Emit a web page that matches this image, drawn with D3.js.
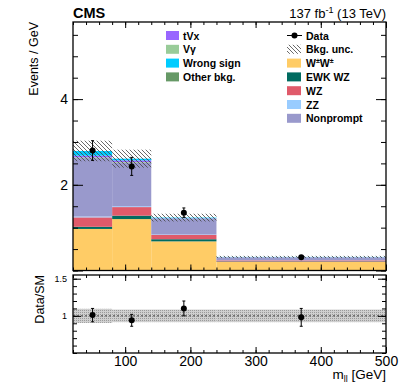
<!DOCTYPE html>
<html>
<head>
<meta charset="utf-8">
<script src="https://cdn.jsdelivr.net/npm/d3@7"></script>
<style>
  body { margin: 0; background: #fff; }
  svg { font-family: "Liberation Sans", Arial, Helvetica, sans-serif; }
</style>
</head>
<body>
<svg id="chart" width="407" height="387"></svg>
<script>
// bins in m_ll [GeV]
const binEdges = [20, 80, 140, 240, 500];
const binCenters = [50, 110, 190, 370];

// stacked backgrounds, events / GeV (bottom to top)
const wwSS      = [0.97, 1.20, 0.68, 0.20];
const ewkWZ     = [0.05, 0.08, 0.05, 0.012];
const wzBkg     = [0.22, 0.20, 0.10, 0.025];
const zzBkg     = [0.02, 0.02, 0.01, 0.005];
const nonprompt = [1.36, 1.01, 0.36, 0.06];
const otherBkg  = [0.01, 0.01, 0.005, 0.003];
const vGamma    = [0.01, 0.01, 0.005, 0.002];
const tVx       = [0.04, 0.04, 0.01, 0.005];
const wrongSign = [0.11, 0.04, 0.015, 0.005];
const bkgUnc    = [0.24, 0.21, 0.09, 0.025];

// data
const dataVals = [2.80, 2.43, 1.35, 0.31];
const dataErr  = [0.23, 0.21, 0.11, 0.03];

// ratio panel
const ratioVals = [1.01, 0.94, 1.10, 0.98];
const ratioErr  = [0.09, 0.08, 0.10, 0.12];
const ratioUnc  = [0.095, 0.085, 0.085, 0.085];

const xTicks = [100, 200, 300, 400, 500];

const layers = [
  { key: "ww", label: "W\u00B1W\u00B1", vals: wwSS, color: "#ffcc66" },
  { key: "ewk", label: "EWK WZ", vals: ewkWZ, color: "#006b60" },
  { key: "wz", label: "WZ", vals: wzBkg, color: "#e05a6a" },
  { key: "zz", label: "ZZ", vals: zzBkg, color: "#99ccff" },
  { key: "np", label: "Nonprompt", vals: nonprompt, color: "#9999cc" },
  { key: "oth", label: "Other bkg.", vals: otherBkg, color: "#669966" },
  { key: "vg", label: "V\u03B3", vals: vGamma, color: "#99cc99" },
  { key: "tvx", label: "tVx", vals: tVx, color: "#9966ff" },
  { key: "ws", label: "Wrong sign", vals: wrongSign, color: "#00ccff" }
];
const colorOf = {};
layers.forEach(l => colorOf[l.key] = l.color);

const svg = d3.select("#chart");

const L = 73, R = 386;
const mainTop = 22, mainBot = 270.5;
const ratTop = 275, ratBot = 353;

const x = d3.scaleLinear().domain([20, 500]).range([L, R]);
const y = d3.scaleLinear().domain([0, 5.8]).range([mainBot, mainTop]);
const yr = d3.scaleLinear().domain([0.5, 1.55]).range([ratBot, ratTop]);

// patterns
const defs = svg.append("defs");
const hatch = defs.append("pattern")
  .attr("id", "hatch")
  .attr("patternUnits", "userSpaceOnUse")
  .attr("width", 4).attr("height", 4);
hatch.append("path")
  .attr("d", "M0,0 L4,4 M-1,3 L1,5 M3,-1 L5,1")
  .attr("stroke", "#444").attr("stroke-width", 0.8);

const dots = defs.append("pattern")
  .attr("id", "dots")
  .attr("patternUnits", "userSpaceOnUse")
  .attr("width", 2).attr("height", 2);
dots.append("rect").attr("width", 2).attr("height", 2).attr("fill", "#cfcfcf");
dots.append("rect").attr("width", 1).attr("height", 1).attr("fill", "#9a9a9a");

// ---- main panel ----
const binData = binCenters.map((c, i) => {
  const row = { i };
  layers.forEach(l => row[l.key] = l.vals[i]);
  return row;
});
const stack = d3.stack().keys(layers.map(l => l.key))(binData);

svg.append("g").selectAll("g")
  .data(stack)
  .enter().append("g")
  .attr("fill", d => colorOf[d.key])
  .selectAll("rect")
  .data(d => d)
  .enter().append("rect")
  .attr("x", d => x(binEdges[d.data.i]))
  .attr("width", d => x(binEdges[d.data.i + 1]) - x(binEdges[d.data.i]))
  .attr("y", d => y(d[1]))
  .attr("height", d => y(d[0]) - y(d[1]));

const totals = binCenters.map((c, i) => d3.sum(layers, l => l.vals[i]));

svg.append("g").selectAll("rect")
  .data(totals)
  .enter().append("rect")
  .attr("x", (d, i) => x(binEdges[i]))
  .attr("width", (d, i) => x(binEdges[i + 1]) - x(binEdges[i]))
  .attr("y", (d, i) => y(d + bkgUnc[i]))
  .attr("height", (d, i) => y(d - bkgUnc[i]) - y(d + bkgUnc[i]))
  .attr("fill", "url(#hatch)");

// data points
const pts = svg.append("g");
binCenters.forEach((c, i) => {
  pts.append("line")
    .attr("x1", x(c)).attr("x2", x(c))
    .attr("y1", y(dataVals[i] - dataErr[i])).attr("y2", y(dataVals[i] + dataErr[i]))
    .attr("stroke", "#000").attr("stroke-width", 1);
  [dataVals[i] - dataErr[i], dataVals[i] + dataErr[i]].forEach(v => {
    pts.append("line")
      .attr("x1", x(c) - 1.5).attr("x2", x(c) + 1.5)
      .attr("y1", y(v)).attr("y2", y(v))
      .attr("stroke", "#000").attr("stroke-width", 1);
  });
  pts.append("circle").attr("cx", x(c)).attr("cy", y(dataVals[i])).attr("r", 3).attr("fill", "#000");
});

// main axes (ticks inside)
const minorX = d3.range(20, 501, 20);
const yMinor = d3.range(0, 5.81, 0.5);
function ticksOnly(g) { g.select(".domain").remove(); g.selectAll("text").remove(); }

svg.append("g").attr("transform", `translate(0,${mainBot})`)
  .call(d3.axisBottom(x).tickValues(minorX).tickSize(-3)).call(ticksOnly);
svg.append("g").attr("transform", `translate(0,${mainBot})`)
  .call(d3.axisBottom(x).tickValues(xTicks).tickSize(-6)).call(ticksOnly);
svg.append("g").attr("transform", `translate(0,${mainTop})`)
  .call(d3.axisTop(x).tickValues(minorX).tickSize(-3)).call(ticksOnly);
svg.append("g").attr("transform", `translate(0,${mainTop})`)
  .call(d3.axisTop(x).tickValues(xTicks).tickSize(-6)).call(ticksOnly);

svg.append("g").attr("transform", `translate(${L},0)`)
  .call(d3.axisLeft(y).tickValues(yMinor).tickSize(-5)).call(ticksOnly);
const yMajor = svg.append("g").attr("transform", `translate(${L},0)`)
  .call(d3.axisLeft(y).tickValues([0, 2, 4]).tickSize(-10).tickPadding(5)
    .tickFormat(d => d === 0 ? "" : d));
yMajor.select(".domain").remove();
yMajor.selectAll("text").attr("font-size", 14).attr("font-family", null);
svg.append("g").attr("transform", `translate(${R},0)`)
  .call(d3.axisRight(y).tickValues(yMinor).tickSize(-5)).call(ticksOnly);
svg.append("g").attr("transform", `translate(${R},0)`)
  .call(d3.axisRight(y).tickValues([0, 2, 4]).tickSize(-10)).call(ticksOnly);

svg.append("rect")
  .attr("x", L).attr("y", mainTop).attr("width", R - L).attr("height", mainBot - mainTop)
  .attr("fill", "none").attr("stroke", "#000").attr("stroke-width", 1.3);

// ---- ratio panel ----
const band = svg.append("g");
binCenters.forEach((c, i) => {
  band.append("rect")
    .attr("x", x(binEdges[i]))
    .attr("width", x(binEdges[i + 1]) - x(binEdges[i]))
    .attr("y", yr(1 + ratioUnc[i]))
    .attr("height", yr(1 - ratioUnc[i]) - yr(1 + ratioUnc[i]))
    .attr("fill", "url(#dots)");
});
svg.append("line")
  .attr("x1", L).attr("x2", R).attr("y1", yr(1)).attr("y2", yr(1))
  .attr("stroke", "#444").attr("stroke-width", 1).attr("stroke-dasharray", "2,2");

const rpts = svg.append("g");
binCenters.forEach((c, i) => {
  rpts.append("line")
    .attr("x1", x(c)).attr("x2", x(c))
    .attr("y1", yr(ratioVals[i] - ratioErr[i])).attr("y2", yr(ratioVals[i] + ratioErr[i]))
    .attr("stroke", "#000").attr("stroke-width", 1);
  [ratioVals[i] - ratioErr[i], ratioVals[i] + ratioErr[i]].forEach(v => {
    rpts.append("line")
      .attr("x1", x(c) - 1.5).attr("x2", x(c) + 1.5)
      .attr("y1", yr(v)).attr("y2", yr(v))
      .attr("stroke", "#000").attr("stroke-width", 1);
  });
  rpts.append("circle").attr("cx", x(c)).attr("cy", yr(ratioVals[i])).attr("r", 3).attr("fill", "#000");
});

const rMinor = d3.range(0.5, 1.551, 0.1);
svg.append("g").attr("transform", `translate(0,${ratBot})`)
  .call(d3.axisBottom(x).tickValues(minorX).tickSize(-3)).call(ticksOnly);
const xAx = svg.append("g").attr("transform", `translate(0,${ratBot})`)
  .call(d3.axisBottom(x).tickValues(xTicks).tickSize(-6).tickPadding(3));
xAx.select(".domain").remove();
xAx.selectAll("text").attr("font-size", 14).attr("font-family", null);
svg.append("g").attr("transform", `translate(0,${ratTop})`)
  .call(d3.axisTop(x).tickValues(minorX).tickSize(-3)).call(ticksOnly);
svg.append("g").attr("transform", `translate(0,${ratTop})`)
  .call(d3.axisTop(x).tickValues(xTicks).tickSize(-6)).call(ticksOnly);

svg.append("g").attr("transform", `translate(${L},0)`)
  .call(d3.axisLeft(yr).tickValues(rMinor).tickSize(-4)).call(ticksOnly);
const yrMajor = svg.append("g").attr("transform", `translate(${L},0)`)
  .call(d3.axisLeft(yr).tickValues([1, 1.5]).tickSize(-8).tickPadding(6)
    .tickFormat(d => d === 1 ? "1" : "1.5"));
yrMajor.select(".domain").remove();
yrMajor.selectAll("text").attr("font-size", 9).attr("font-family", null);
svg.append("g").attr("transform", `translate(${R},0)`)
  .call(d3.axisRight(yr).tickValues(rMinor).tickSize(-4)).call(ticksOnly);
svg.append("g").attr("transform", `translate(${R},0)`)
  .call(d3.axisRight(yr).tickValues([1, 1.5]).tickSize(-8)).call(ticksOnly);

svg.append("rect")
  .attr("x", L).attr("y", ratTop).attr("width", R - L).attr("height", ratBot - ratTop)
  .attr("fill", "none").attr("stroke", "#000").attr("stroke-width", 1.3);

// ---- titles ----
svg.append("text").attr("x", L).attr("y", 17.5)
  .attr("font-size", 14.5).attr("font-weight", "bold").text("CMS");
const lumi = svg.append("text").attr("x", R).attr("y", 17.5)
  .attr("text-anchor", "end").attr("font-size", 13);
lumi.append("tspan").text("137 fb");
lumi.append("tspan").attr("dy", -5).attr("font-size", 9).text("-1");
lumi.append("tspan").attr("dy", 5).text(" (13 TeV)");

svg.append("text")
  .attr("transform", "translate(38,22) rotate(-90)")
  .attr("text-anchor", "end").attr("font-size", 12.5).text("Events / GeV");
svg.append("text")
  .attr("transform", `translate(44,${ratTop}) rotate(-90)`)
  .attr("text-anchor", "end").attr("font-size", 12.5).text("Data/SM");

const xl = svg.append("text").attr("x", R).attr("y", 379)
  .attr("text-anchor", "end").attr("font-size", 13.5);
xl.append("tspan").text("m");
xl.append("tspan").attr("dy", 3).attr("font-size", 9).text("ll");
xl.append("tspan").attr("dy", -3).text(" [GeV]");

// ---- legend ----
const leg = svg.append("g").attr("font-size", 10.5).attr("font-weight", "bold");
const rowH = 13.8;
const leftItems = ["tvx", "vg", "ws", "oth"];
leftItems.forEach((k, i) => {
  const cy = 35.5 + i * rowH;
  const l = layers.find(d => d.key === k);
  leg.append("rect").attr("x", 166).attr("y", cy - 4.5).attr("width", 13).attr("height", 9).attr("fill", l.color);
  leg.append("text").attr("x", 183).attr("y", cy + 4).text(l.label);
});
const rightItems = ["data", "unc", "ww", "ewk", "wz", "zz", "np"];
rightItems.forEach((k, i) => {
  const cy = 35.5 + i * rowH;
  const tx = leg.append("text").attr("x", 306).attr("y", cy + 4);
  if (k === "data") {
    leg.append("line").attr("x1", 287).attr("x2", 302).attr("y1", cy).attr("y2", cy)
      .attr("stroke", "#000").attr("stroke-width", 1);
    leg.append("circle").attr("cx", 294.5).attr("cy", cy).attr("r", 3).attr("fill", "#000");
    tx.text("Data");
  } else if (k === "unc") {
    leg.append("rect").attr("x", 287).attr("y", cy - 4.5).attr("width", 14).attr("height", 9).attr("fill", "url(#hatch)");
    tx.text("Bkg. unc.");
  } else if (k === "ww") {
    leg.append("rect").attr("x", 287).attr("y", cy - 4.5).attr("width", 14).attr("height", 9).attr("fill", colorOf.ww);
    tx.append("tspan").text("W");
    tx.append("tspan").attr("dy", -4).attr("font-size", 7).text("\u00B1");
    tx.append("tspan").attr("dy", 4).text("W");
    tx.append("tspan").attr("dy", -4).attr("font-size", 7).text("\u00B1");
  } else {
    const l = layers.find(d => d.key === k);
    leg.append("rect").attr("x", 287).attr("y", cy - 4.5).attr("width", 14).attr("height", 9).attr("fill", l.color);
    tx.text(l.label);
  }
});
</script>
</body>
</html>
